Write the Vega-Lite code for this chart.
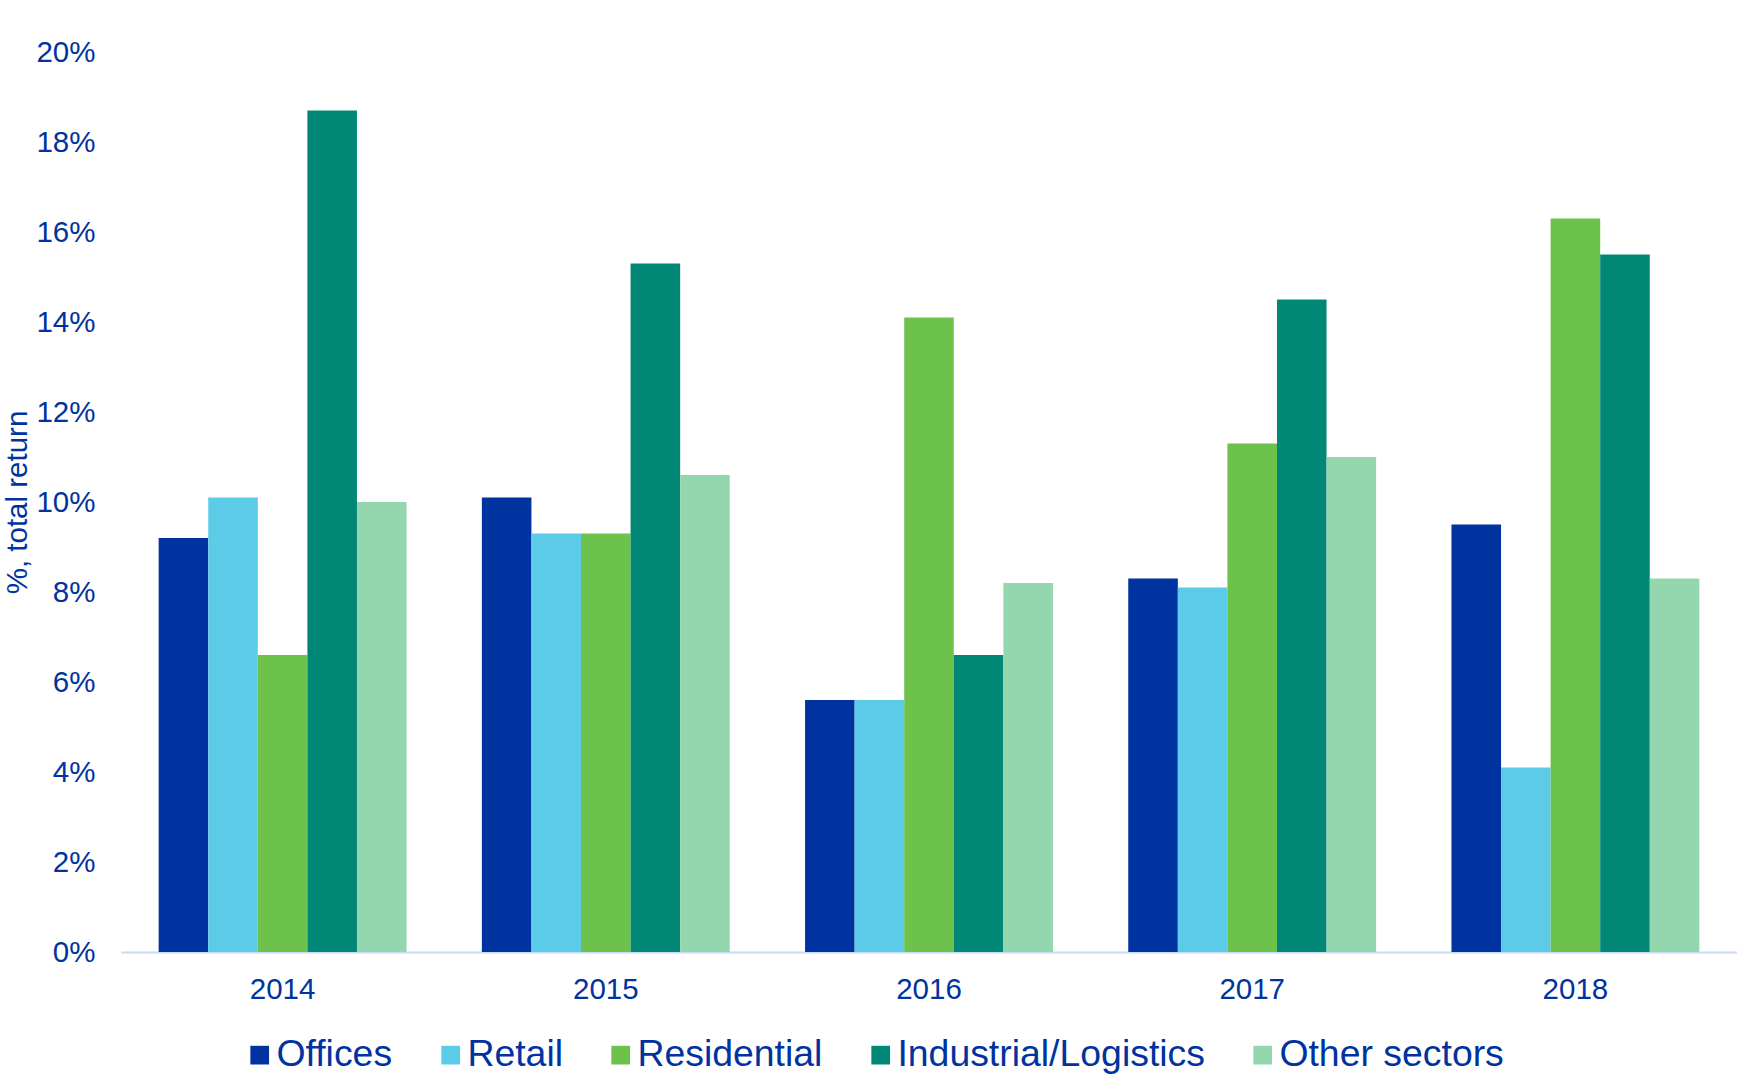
{
  "$schema": "https://vega.github.io/schema/vega-lite/v6.json",
  "width": 1616,
  "height": 900,
  "autosize": {"type": "none"},
  "padding": {"left": 121, "top": 52, "right": 0, "bottom": 122},
  "background": "#ffffff",
  "config": {
    "font": "Liberation Sans",
    "view": {"stroke": null}
  },
  "data": {
    "values": [
      {"year": "2014", "sector": "Offices", "value": 9.2},
      {"year": "2014", "sector": "Retail", "value": 10.1},
      {"year": "2014", "sector": "Residential", "value": 6.6},
      {"year": "2014", "sector": "Industrial/Logistics", "value": 18.7},
      {"year": "2014", "sector": "Other sectors", "value": 10.0},
      {"year": "2015", "sector": "Offices", "value": 10.1},
      {"year": "2015", "sector": "Retail", "value": 9.3},
      {"year": "2015", "sector": "Residential", "value": 9.3},
      {"year": "2015", "sector": "Industrial/Logistics", "value": 15.3},
      {"year": "2015", "sector": "Other sectors", "value": 10.6},
      {"year": "2016", "sector": "Offices", "value": 5.6},
      {"year": "2016", "sector": "Retail", "value": 5.6},
      {"year": "2016", "sector": "Residential", "value": 14.1},
      {"year": "2016", "sector": "Industrial/Logistics", "value": 6.6},
      {"year": "2016", "sector": "Other sectors", "value": 8.2},
      {"year": "2017", "sector": "Offices", "value": 8.3},
      {"year": "2017", "sector": "Retail", "value": 8.1},
      {"year": "2017", "sector": "Residential", "value": 11.3},
      {"year": "2017", "sector": "Industrial/Logistics", "value": 14.5},
      {"year": "2017", "sector": "Other sectors", "value": 11.0},
      {"year": "2018", "sector": "Offices", "value": 9.5},
      {"year": "2018", "sector": "Retail", "value": 4.1},
      {"year": "2018", "sector": "Residential", "value": 16.3},
      {"year": "2018", "sector": "Industrial/Logistics", "value": 15.5},
      {"year": "2018", "sector": "Other sectors", "value": 8.3}
    ]
  },
  "mark": {"type": "bar"},
  "encoding": {
    "x": {
      "field": "year",
      "type": "nominal",
      "scale": {"paddingInner": 0.233, "paddingOuter": 0.1165},
      "axis": {
        "title": null,
        "labelAngle": 0,
        "labelFontSize": 29.5,
        "labelColor": "#0033A0",
        "labelPadding": 23,
        "ticks": false,
        "domain": true,
        "domainColor": "#C9D8F5",
        "domainWidth": 2,
        "grid": false
      }
    },
    "xOffset": {
      "field": "sector",
      "type": "nominal",
      "sort": ["Offices", "Retail", "Residential", "Industrial/Logistics", "Other sectors"],
      "scale": {"paddingInner": 0, "paddingOuter": 0}
    },
    "y": {
      "field": "value",
      "type": "quantitative",
      "scale": {"domain": [0, 20], "nice": false},
      "axis": {
        "title": "%, total return",
        "titleFontSize": 29.5,
        "titleFontWeight": "normal",
        "titleColor": "#0033A0",
        "titleX": -104,
        "titleY": 450,
        "titleAlign": "center",
        "titleBaseline": "middle",
        "values": [0, 2, 4, 6, 8, 10, 12, 14, 16, 18, 20],
        "labelExpr": "datum.value + '%'",
        "labelFontSize": 29.5,
        "labelColor": "#0033A0",
        "labelPadding": 26,
        "ticks": false,
        "domain": false,
        "grid": false
      }
    },
    "color": {
      "field": "sector",
      "type": "nominal",
      "scale": {
        "domain": ["Offices", "Retail", "Residential", "Industrial/Logistics", "Other sectors"],
        "range": ["#0033A0", "#5BCBE8", "#6CC24A", "#008775", "#94D7AE"]
      },
      "legend": {
        "title": null,
        "orient": "none",
        "direction": "horizontal",
        "legendX": 120,
        "legendY": 984,
        "symbolType": "square",
        "symbolSize": 350,
        "symbolStrokeWidth": 0,
        "labelFontSize": 37.4,
        "labelColor": "#0033A0",
        "labelOffset": -2,
        "labelLimit": 0,
        "columnPadding": 39
      }
    }
  }
}
